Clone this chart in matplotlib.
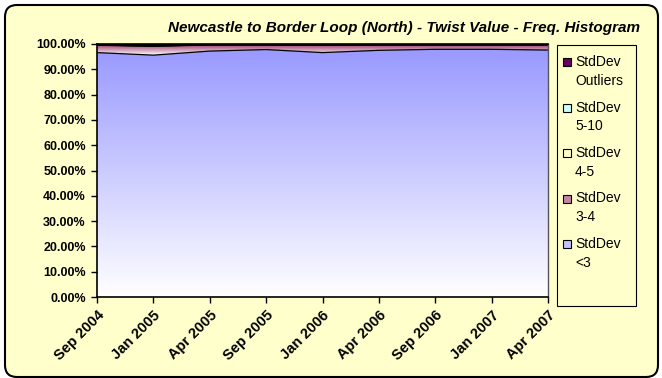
"""Stacked area chart: twist value frequency histogram, Newcastle to Border Loop (North)."""

import numpy as np
import matplotlib

matplotlib.use("Agg")
import matplotlib.pyplot as plt
from matplotlib.colors import LinearSegmentedColormap
from matplotlib.patches import FancyBboxPatch, Rectangle
from matplotlib.transforms import IdentityTransform

plt.rcParams["font.family"] = ["Liberation Sans", "DejaVu Sans"]

periods = ["Sep 2004", "Jan 2005", "Apr 2005", "Sep 2005", "Jan 2006",
           "Apr 2006", "Sep 2006", "Jan 2007", "Apr 2007"]
sd_lt3 = [96.6, 95.6, 97.2, 97.8, 96.6, 97.5, 97.9, 97.9, 97.6]
sd_3_4 = [2.9, 3.5, 2.4, 1.8, 2.9, 2.1, 1.7, 1.7, 2.0]
sd_4_5 = [0.1, 0.1, 0.1, 0.1, 0.1, 0.1, 0.1, 0.1, 0.1]
sd_5_10 = [0.0, 0.0, 0.0, 0.0, 0.0, 0.0, 0.0, 0.0, 0.0]
sd_outliers = [0.4, 0.8, 0.3, 0.3, 0.4, 0.3, 0.3, 0.3, 0.3]

# (legend label, values, top colour, bottom colour) - bottom layer first
layers = [
    ("StdDev\n<3", sd_lt3, "#9999FF", "#FFFFFF"),
    ("StdDev\n3-4", sd_3_4, "#993366", "#FFFFFF"),
    ("StdDev\n4-5", sd_4_5, "#FFFFCC", "#FFFFCC"),
    ("StdDev\n5-10", sd_5_10, "#CCFFFF", "#CCFFFF"),
    ("StdDev\nOutliers", sd_outliers, "#660066", "#660066"),
]

W, H = 662, 378
fig = plt.figure(figsize=(W / 100, H / 100), dpi=100, facecolor="white")

# rounded chart frame (pixel coords, origin bottom-left)
frame = FancyBboxPatch((5, 1), 653, 372, boxstyle="round,pad=0,rounding_size=12",
                       transform=IdentityTransform(), facecolor="#FFFFCC",
                       edgecolor="black", linewidth=1.5, zorder=-5)
fig.patches.append(frame)

px = lambda x0, y0, x1, y1: [x0 / W, 1 - y1 / H, (x1 - x0) / W, (y1 - y0) / H]
ax = fig.add_axes(px(97, 44, 548, 297))
ax.set_facecolor("white")

x = np.arange(len(periods))
bottom = np.zeros(len(periods))
for label, vals, top_c, bot_c in layers:
    vals = np.asarray(vals)
    top = bottom + vals
    poly = ax.fill_between(x, bottom, top, facecolor="none", edgecolor="none")
    cmap = LinearSegmentedColormap.from_list(label, [bot_c, top_c])
    grad = np.linspace(1, 0, 256).reshape(-1, 1)
    ylo, yhi = bottom.min(), top.max()
    im = ax.imshow(grad, extent=[x[0], x[-1], ylo, yhi], aspect="auto",
                   cmap=cmap, vmin=0, vmax=1, origin="upper", zorder=1)
    im.set_clip_path(poly.get_paths()[0], ax.transData)
    ax.plot(x, top, color="black", linewidth=0.9, zorder=2)
    bottom = top

ax.set_xlim(x[0], x[-1])
ax.set_ylim(0, 100)
ax.set_yticks(np.arange(0, 101, 10))
ax.set_yticklabels([f"{v:.2f}%" for v in range(0, 101, 10)],
                   fontsize=9, fontweight="bold")
ax.set_xticks(x)
ax.set_xticklabels(periods, rotation=45, ha="right", rotation_mode="anchor",
                   fontsize=10.5, fontweight="bold")
ax.tick_params(direction="out", length=4, width=1, color="black", pad=4)
for s in ax.spines.values():
    s.set_linewidth(1.2)
    s.set_color("black")
ax.spines["right"].set_color("#555555")
ax.spines["right"].set_linewidth(1.0)

fig.text(640 / W, 1 - 32 / H,
         "Newcastle to Border Loop (North) - Twist Value - Freq. Histogram",
         ha="right", va="baseline", fontsize=11, fontweight="bold",
         style="italic")

# legend, drawn by hand in pixel coordinates (top entry = top layer)
fig.patches.append(Rectangle((557, H - 306), 79, 261, transform=IdentityTransform(),
                             facecolor="#FFFFCC", edgecolor="black", linewidth=0.8,
                             zorder=1))
for i, (label, _, top_c, bot_c) in enumerate(reversed(layers)):
    yc = 62 + i * 45.5
    sw_c = top_c if top_c == bot_c else LinearSegmentedColormap.from_list(
        "m", [bot_c, top_c])(0.6)
    fig.patches.append(Rectangle((563, H - yc - 4), 8, 8, transform=IdentityTransform(),
                                 facecolor=sw_c, edgecolor="black", linewidth=0.8,
                                 zorder=2))
    fig.text(575 / W, 1 - (yc - 7) / H, label, ha="left", va="top",
             fontsize=10, linespacing=1.45)

fig.savefig("out.png", dpi=100, facecolor="white")
